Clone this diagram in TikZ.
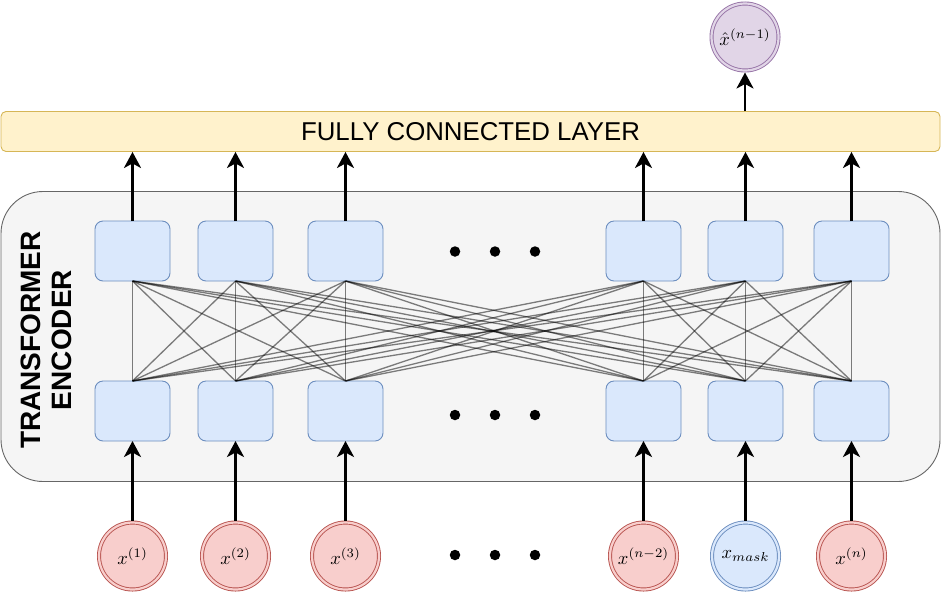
\documentclass[tikz,border=0pt]{standalone}
\usepackage{graphicx}
\usepackage{fontspec}
\setmainfont{Liberation Sans}
\usetikzlibrary{arrows.meta}
\definecolor{redfill}{HTML}{F8CECC}
\definecolor{redline}{HTML}{B85450}
\definecolor{bluefill}{HTML}{DAE8FC}
\definecolor{blueline}{HTML}{6C8EBF}
\definecolor{purfill}{HTML}{E1D5E7}
\definecolor{purline}{HTML}{9673A6}
\definecolor{yelfill}{HTML}{FFF2CC}
\definecolor{yelline}{HTML}{D6B656}
\definecolor{encfill}{HTML}{F5F5F5}
\definecolor{encline}{HTML}{666666}
\newcommand{\bigmth}[1]{\scalebox{1.85}{$#1$}}
\tikzset{
  cell/.style={draw=blueline, fill=bluefill, line width=0.9pt, rounded corners=8pt,
    minimum width=75pt, minimum height=60pt, inner sep=0pt, outer sep=0pt},
  dcirc/.style={circle, draw=#1line, fill=#1fill, double=#1fill, double distance=2.2pt,
    line width=0.9pt, minimum size=67pt, inner sep=0pt, outer sep=2pt,
    font=\normalsize},
  arr/.style={line width=2.8pt, -{Stealth[length=16pt,width=17pt,inset=4.5pt]}},
  link/.style={draw=black, draw opacity=0.5, line width=1.3pt},
  dotm/.style={circle, fill=black, inner sep=0pt, minimum size=10.5pt}
}
\begin{document}
\begin{tikzpicture}[x=1pt,y=-1pt]
\useasboundingbox (0,0) rectangle (941,592);
% encoder background
\node[draw=encline, fill=encfill, line width=0.9pt, rounded corners=42pt,
  minimum width=939pt, minimum height=290pt, inner sep=0pt] (enc) at (470.5,336.5) {};
\node[rotate=90, align=center, font=\fontsize{28}{31}\selectfont\bfseries] (enclabel) at (46,340) {TRANSFORMER\\ENCODER};
% fully connected layer
\node[draw=yelline, fill=yelfill, line width=0.9pt, rounded corners=5pt,
  minimum width=939pt, minimum height=40pt, inner sep=0pt,
  font=\fontsize{25.8}{28}\selectfont] (fc) at (470.5,131.5) {FULLY CONNECTED LAYER};
% output circle
\node[dcirc=pur] (out) at (745,37) {\bigmth{\hat{x}^{(n-1)}}};
% cells
\foreach \i/\x in {1/132.5,2/235.5,3/345.5,4/643.5,5/745.5,6/851.5}{
  \node[cell] (up\i) at (\x,251) {};
  \node[cell] (lo\i) at (\x,411) {};
}
% input circles
\node[dcirc=red] (in1) at (132.5,556) {\bigmth{x^{(1)}}};
\node[dcirc=red] (in2) at (235.5,556) {\bigmth{x^{(2)}}};
\node[dcirc=red] (in3) at (345.5,556) {\bigmth{x^{(3)}}};
\node[dcirc=red] (in4) at (643.5,556) {\bigmth{x^{(n-2)}}};
\node[dcirc=blue] (in5) at (745.5,556) {\bigmth{x_{mask}}};
\node[dcirc=red] (in6) at (851.5,556) {\bigmth{x^{(n)}}};
% dots
\foreach \r/\y in {a/251.5,b/415,c/555}{
  \node[dotm] (d\r1) at (455,\y) {};
  \node[dotm] (d\r2) at (495,\y) {};
  \node[dotm] (d\r3) at (535,\y) {};
}
% all-to-all links
\foreach \i in {1,...,6}{
  \foreach \j in {1,...,6}{
    \draw[link] (lo\i.north) -- (up\j.south);
  }
}
% arrows
\foreach \i in {1,...,6}{
  \draw[arr] (in\i.north) -- (lo\i.south);
  \draw[arr] (up\i.north) -- (up\i.north |- fc.south);
}
\draw[arr] (fc.north -| out.south) -- (out.south);
\end{tikzpicture}
\end{document}
